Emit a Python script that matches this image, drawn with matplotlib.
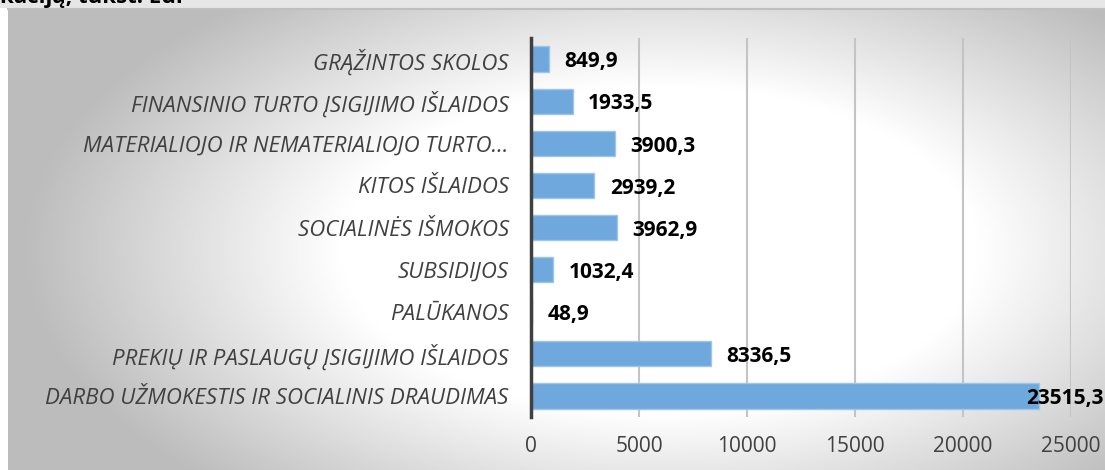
import numpy as np
import matplotlib.pyplot as plt
from matplotlib.colors import LinearSegmentedColormap

categories = [
    "DARBO UŽMOKESTIS IR SOCIALINIS DRAUDIMAS",
    "PREKIŲ IR PASLAUGŲ ĮSIGIJIMO IŠLAIDOS",
    "PALŪKANOS",
    "SUBSIDIJOS",
    "SOCIALINĖS IŠMOKOS",
    "KITOS IŠLAIDOS",
    "MATERIALIOJO IR NEMATERIALIOJO TURTO…",
    "FINANSINIO TURTO ĮSIGIJIMO IŠLAIDOS",
    "GRĄŽINTOS SKOLOS",
]
values = [23515.3, 8336.5, 48.9, 1032.4, 3962.9, 2939.2, 3900.3, 1933.5, 849.9]
value_labels = ["23515,3", "8336,5", "48,9", "1032,4", "3962,9", "2939,2", "3900,3", "1933,5", "849,9"]
xticks = [0, 5000, 10000, 15000, 20000, 25000]

W, H = 1105, 470
fig = plt.figure(figsize=(W / 100, H / 100), dpi=100)
fig.patch.set_facecolor("white")

# top strip with cut-off title text
strip = fig.add_axes([0, 1 - 8 / H, 1, 8 / H])
strip.set_facecolor("#e6e6e6")
strip.set_xticks([])
strip.set_yticks([])
for s in strip.spines.values():
    s.set_visible(False)
fig.add_artist(plt.Line2D([8 / W, 1], [1 - 9 / H, 1 - 9 / H], color="#bfbfbf", lw=1.5))
fig.text(0.0, 1 - 3 / H, "kaciją, tūkst. Eur", fontsize=16, fontweight="bold",
         family="Open Sans", color="black", va="baseline", ha="left")

# radial gradient background
bg = fig.add_axes([8 / W, 0, 1 - 8 / W, 1 - 10 / H])
bg.set_zorder(-5)
xx, yy = np.meshgrid(np.linspace(8, W, 400), np.linspace(10, H, 200))
r = np.sqrt(((xx - 660) / 640) ** 2 + ((yy - 250) / 330) ** 2)
cmap = LinearSegmentedColormap.from_list("bg", ["#ffffff", "#ffffff", "#bcbcbc"])
bg.imshow(np.clip(r, 0, 1), cmap=cmap, vmin=0, vmax=1, aspect="auto", origin="upper",
          extent=[0, 1, 0, 1])
bg.axis("off")

ax = fig.add_axes([531 / W, 1 - 417 / H, (1071 - 531) / W, (417 - 38) / H])
ax.set_facecolor("none")
y = np.arange(len(categories))
ax.barh(y, values, height=0.6, color="#6fa8dc", edgecolor="#9fc5e8", linewidth=1, zorder=3)
ax.set_xlim(0, 25000)
ax.set_ylim(-0.5, len(categories) - 0.5)
ax.set_xticks(xticks)
ax.set_xticklabels([str(t) for t in xticks])
ax.set_yticks(y)
ax.set_yticklabels(categories, fontstyle="italic")
ax.grid(axis="x", color="#c4c4c4", lw=1.5, zorder=0)
ax.tick_params(axis="both", length=0, colors="#404040")
ax.tick_params(axis="y", pad=16, labelsize=16)
ax.tick_params(axis="x", pad=14, labelsize=15)
for lab in ax.get_yticklabels() + ax.get_xticklabels():
    lab.set_family("Open Sans")
for s in ["top", "right", "bottom"]:
    ax.spines[s].set_visible(False)
ax.spines["left"].set_color("#404040")
ax.spines["left"].set_linewidth(2.5)
ax.spines["left"].set_zorder(4)

for yi, v, t in zip(y, values, value_labels):
    if v > 20000:
        # no room past the bar: pin the label to the right edge of the figure
        ax.annotate(t, xy=(1 - 1 / W, yi), xycoords=("figure fraction", "data"),
                    xytext=(0, -2), textcoords="offset points",
                    ha="right", va="center", fontsize=15, fontweight="bold",
                    family="Open Sans", color="black", annotation_clip=False, zorder=5)
    else:
        ax.annotate(t, (v, yi), xytext=(11, -2), textcoords="offset points",
                    ha="left", va="center", fontsize=15, fontweight="bold",
                    family="Open Sans", color="black", annotation_clip=False, zorder=5)

fig.savefig("out.png", dpi=100)
